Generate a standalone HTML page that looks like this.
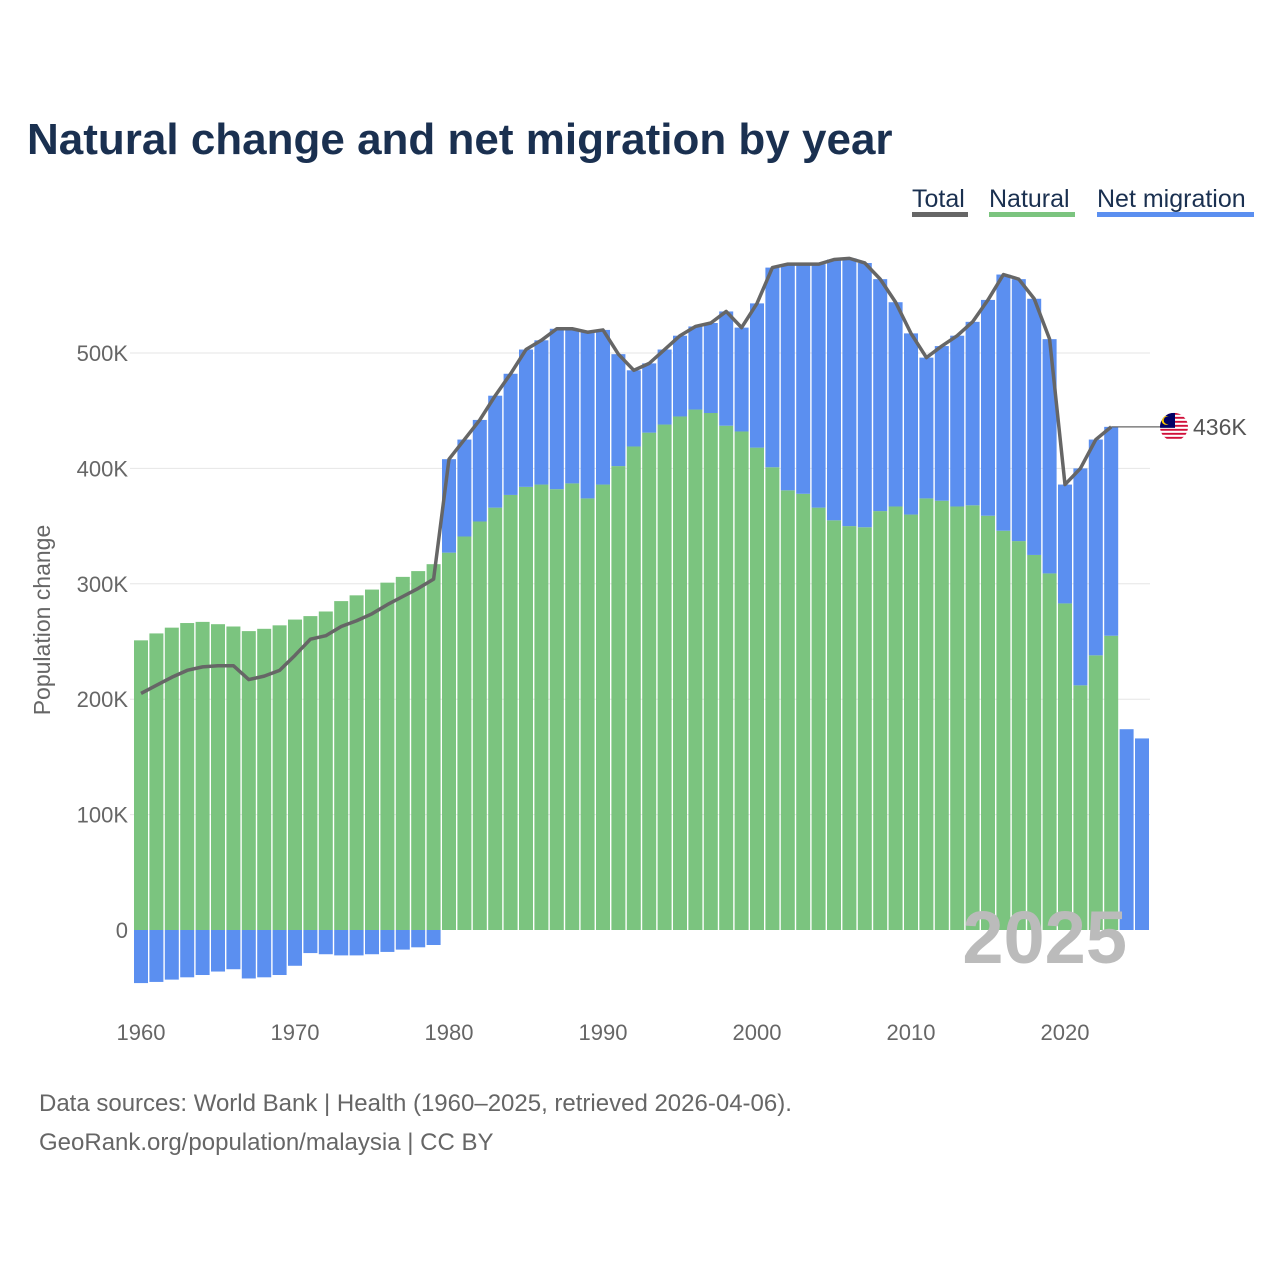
<!DOCTYPE html>
<html><head><meta charset="utf-8">
<style>
body{margin:0;background:#fff;font-family:"Liberation Sans",sans-serif;}
#wrap{position:relative;width:1280px;height:1280px;overflow:hidden;}
</style></head>
<body>
<div id="wrap">
<svg id="chart" width="1280" height="1280" xmlns="http://www.w3.org/2000/svg">
  <text x="27" y="154" font-size="44" font-weight="bold" fill="#1a3050">Natural change and net migration by year</text>
  <g>
    <g>
      <text x="912" y="207" font-size="25" fill="#1a3050">Total</text>
      <rect x="912" y="212" width="56" height="5" fill="#666"/>
    </g>
    <g>
      <text x="989" y="207" font-size="25" fill="#1a3050">Natural</text>
      <rect x="989" y="212" width="86" height="5" fill="#7bc47f"/>
    </g>
    <g>
      <text x="1097" y="207" font-size="25" fill="#1a3050">Net migration</text>
      <rect x="1097" y="212" width="157" height="5" fill="#5b8ff0"/>
    </g>
  </g>
  <g id="grid"></g>
  <g id="bars"></g>
  <g id="line"></g>
  <g id="xaxis"></g>
  <text x="-620" y="50" transform="rotate(-90)" font-size="23" fill="#666" text-anchor="middle">Population change</text>
  <text x="1127" y="963" font-size="74" font-weight="bold" fill="#bbb" text-anchor="end">2025</text>
  <text x="39" y="1111" font-size="24" fill="#666">Data sources: World Bank | Health (1960–2025, retrieved 2026-04-06).</text>
  <text x="39" y="1150" font-size="24" fill="#666">GeoRank.org/population/malaysia | CC BY</text>
</svg>
</div>
<script>
const years = [];
for (let y = 1960; y <= 2025; y++) years.push(y);
const natural = [251,257,262,266,267,265,263,259,261,264,269,272,276,285,290,295,301,306,311,317,
327,341,354,366,377,384,386,382,387,374,386,402,419,431,438,445,451,448,437,432,
418,401,381,378,366,355,350,349,363,367,360,374,372,367,368,359,346,337,325,309,
283,212,238,255,null,null];
const totals = [205,212,219,225,228,229,229,217,220,225,238,252,255,263,268,274,282,289,296,304,
408,425,442,463,482,503,511,521,521,518,520,499,485,491,503,515,523,526,536,522,
543,574,577,577,577,581,582,578,564,544,517,496,506,515,527,546,568,564,547,512,
386,400,425,436,null,null];
const netOnly = [null,null,null,null,null,null,null,null,null,null,null,null,null,null,null,null,null,null,null,null,
null,null,null,null,null,null,null,null,null,null,null,null,null,null,null,null,null,null,null,null,
null,null,null,null,null,null,null,null,null,null,null,null,null,null,null,null,null,null,null,null,
null,null,null,null,174,166];
const yTicks = [0,100,200,300,400,500];
const yTickLabels = ["0","100K","200K","300K","400K","500K"];
const xTicks = [1960,1970,1980,1990,2000,2010,2020];

const NS = "http://www.w3.org/2000/svg";
const yS = v => 930 - v * 1.154;
const xS = yr => 141 + (yr - 1960) * 15.4;
const bw = 14;
function mk(tag, attrs, parent) {
  const e = document.createElementNS(NS, tag);
  for (const k in attrs) e.setAttribute(k, attrs[k]);
  parent.appendChild(e);
  return e;
}
const grid = document.getElementById('grid');
yTicks.forEach((t, i) => {
  if (t > 0) {
    const l = mk('line', {x1:130, x2:1150, y1:yS(t), y2:yS(t), stroke:'#e6e6e6', 'stroke-width':1}, grid);
    
    
  }
  const tx = mk('text', {x:128, y:yS(t)+8, 'font-size':22, fill:'#666', 'text-anchor':'end'}, grid);
  tx.textContent = yTickLabels[i];
  
  
});
const bars = document.getElementById('bars');
years.forEach((yr, i) => {
  const x = xS(yr) - bw/2;
  if (natural[i] !== null) {
    const g = mk('rect', {x:x, y:yS(natural[i]), width:bw, height:yS(0)-yS(natural[i]), fill:'#7bc47f'}, bars);
    
    
    const net = totals[i] - natural[i];
    let y0, y1;
    if (net >= 0) { y0 = yS(natural[i] + net); y1 = yS(natural[i]); }
    else { y0 = yS(0); y1 = yS(net); }
    const b = mk('rect', {x:x, y:y0, width:bw, height:y1-y0, fill:'#5b8ff0'}, bars);
    
    
  } else if (netOnly[i] !== null) {
    const b = mk('rect', {x:x, y:yS(netOnly[i]), width:bw, height:yS(0)-yS(netOnly[i]), fill:'#5b8ff0'}, bars);
    
    
  }
});
const lineG = document.getElementById('line');
let d = '';
let lastI = 0;
years.forEach((yr, i) => {
  if (totals[i] === null) return;
  d += (d ? 'L' : 'M') + xS(yr) + ',' + yS(totals[i]);
  lastI = i;
});
const p = mk('path', {d:d, fill:'none', stroke:'#666', 'stroke-width':3.5, 'stroke-linejoin':'round'}, lineG);


const ly = yS(totals[lastI]);
const ll = mk('line', {x1:xS(years[lastI]), x2:1162, y1:ly, y2:ly, stroke:'#666', 'stroke-width':1.2}, lineG);


// flag
const fg = mk('g', {}, lineG);


mk('clipPath', {id:'fc'}, fg).appendChild((() => { const c = document.createElementNS(NS,'circle'); c.setAttribute('cx',1174); c.setAttribute('cy',ly); c.setAttribute('r',14); return c; })());
const fb = mk('g', {'clip-path':'url(#fc)'}, fg);
for (let k = 0; k < 7; k++) {
  mk('rect', {x:1158, y:ly-14+k*4, width:32, height:2, fill:'#d0103a'}, fb);
  mk('rect', {x:1158, y:ly-12+k*4, width:32, height:2, fill:'#fff'}, fb);
}
mk('rect', {x:1158, y:ly-14, width:17, height:15, fill:'#010066'}, fb);
mk('circle', {cx:1166, cy:ly-6.5, r:4.5, fill:'#fc0'}, fb);
mk('circle', {cx:1167.5, cy:ly-6.5, r:3.8, fill:'#010066'}, fb);
const et = mk('text', {x:1193, y:ly+8, 'font-size':23, fill:'#555'}, lineG);
et.textContent = Math.round(totals[lastI]) + 'K';


const xa = document.getElementById('xaxis');
xTicks.forEach(t => {
  const tx = mk('text', {x:xS(t), y:1040, 'font-size':22, fill:'#666', 'text-anchor':'middle'}, xa);
  tx.textContent = t;
  
  
});
</script>
</body></html>
